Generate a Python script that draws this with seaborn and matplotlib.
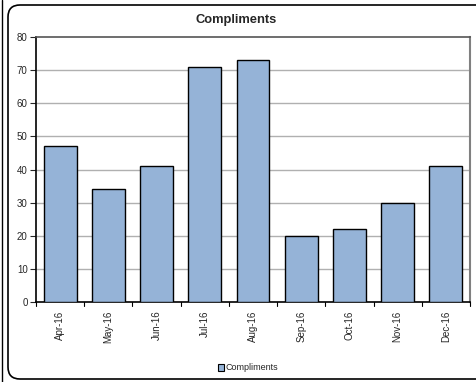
import pandas as pd
import matplotlib.pyplot as plt
import seaborn as sns
from matplotlib.patches import Patch, PathPatch
from matplotlib.path import Path
from matplotlib.lines import Line2D
from matplotlib.transforms import IdentityTransform

# data
months = ["Apr-16", "May-16", "Jun-16", "Jul-16", "Aug-16",
          "Sep-16", "Oct-16", "Nov-16", "Dec-16"]
compliments = [47, 34, 41, 71, 73, 20, 22, 30, 41]
y_ticks = [0, 10, 20, 30, 40, 50, 60, 70, 80]

df = pd.DataFrame({"Month": months, "Compliments": compliments})

sns.set_style("white")
plt.rcParams["font.family"] = ["Liberation Sans", "DejaVu Sans"]

fig = plt.figure(figsize=(4.77, 3.82), dpi=100)
W, H = 477, 382

# outer chart frame in pixels: left part with rounded corners, open to the right
x0, top, bot, r = 8, H - 5, H - 379, 12
verts = [(W - 1, top), (x0 + r, top), (x0, top), (x0, top - r),
         (x0, bot + r), (x0, bot), (x0 + r, bot), (W - 1, bot)]
codes = [Path.MOVETO, Path.LINETO, Path.CURVE3, Path.CURVE3,
         Path.LINETO, Path.CURVE3, Path.CURVE3, Path.LINETO]
frame = PathPatch(Path(verts, codes), transform=IdentityTransform(),
                  fill=False, edgecolor="black", linewidth=1.2, zorder=0)
fig.patches.append(frame)
fig.lines.append(Line2D([2 / W, 2 / W], [0, 1], transform=fig.transFigure,
                        color="black", linewidth=1.0))

ax = fig.add_axes([36 / W, 1 - 302 / H, (470 - 36) / W, (302 - 37) / H])

bar_color = "#95B3D7"
sns.barplot(data=df, x="Month", y="Compliments", color=bar_color,
            saturation=1, width=0.68, edgecolor="black", linewidth=1.0,
            ax=ax, zorder=3)

ax.set_ylim(0, 80)
ax.set_xlim(-0.5, len(months) - 0.5)
ax.set_yticks(y_ticks)
ax.set_yticklabels([str(t) for t in y_ticks], fontsize=7)
ax.set_xticks(range(len(months)))
ax.set_xticklabels(months, rotation=90, fontsize=7)
ax.tick_params(axis="x", length=0, pad=6)
ax.tick_params(axis="y", length=4, width=0.8, direction="out", left=True, pad=2)

# category boundary ticks on the x axis
for k in range(len(months) + 1):
    ax.plot([k - 0.5, k - 0.5], [0, -1.2], color="black", linewidth=0.8,
            clip_on=False, zorder=4)

for v in y_ticks[1:-1]:
    ax.axhline(v, color="#b0b0b0", linewidth=1.0, zorder=1)

ax.set_xlabel("")
ax.set_ylabel("")
ax.spines["left"].set_color("black")
ax.spines["left"].set_linewidth(1.2)
ax.spines["bottom"].set_color("black")
ax.spines["bottom"].set_linewidth(1.2)
ax.spines["top"].set_color("#555555")
ax.spines["top"].set_linewidth(1.2)
ax.spines["right"].set_color("#808080")
ax.spines["right"].set_linewidth(1.5)

fig.text(236 / W, 1 - 20 / H, "Compliments", ha="center", va="center",
         fontsize=9.3, fontweight="bold")

handle = Patch(facecolor=bar_color, edgecolor="black", linewidth=0.8)
fig.legend([handle], ["Compliments"], loc="center",
           bbox_to_anchor=(248 / W, 1 - 368 / H), frameon=False,
           fontsize=6.5, handlelength=0.7, handleheight=0.7,
           handletextpad=0.2)

fig.savefig("out.png", dpi=100)
